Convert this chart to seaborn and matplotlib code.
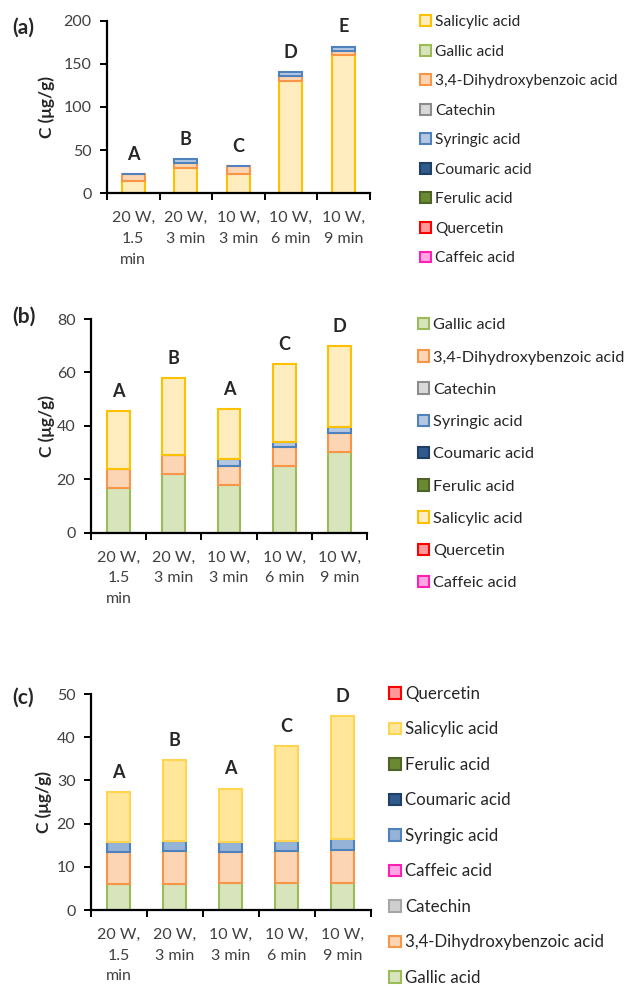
import numpy as np
import pandas as pd
import matplotlib
matplotlib.use("Agg")
import matplotlib.pyplot as plt
from matplotlib.patches import Patch
from matplotlib.ticker import FixedLocator
import seaborn as sns

sns.set_style("white")
plt.rcParams["font.family"] = ["Lato", "DejaVu Sans"]

# extraction conditions (x categories)
conditions = ["20 W,\n1.5\nmin", "20 W,\n3 min", "10 W,\n3 min", "10 W,\n6 min", "10 W,\n9 min"]

# panel (a) values, ug/g
a_salicylic = [14.5, 29.5, 22.5, 130.0, 160.0]
a_gallic = [0, 0, 0, 0, 0]
a_dhba = [7.5, 5.5, 9.0, 6.0, 5.0]
a_catechin = [0, 0, 0, 0, 0]
a_syringic = [0, 4.5, 0, 4.5, 5.0]
a_coumaric = [0, 0, 0, 0, 0]
a_ferulic = [0, 0, 0, 0, 0]
a_quercetin = [0, 0, 0, 0, 0]
a_caffeic = [0, 0, 0, 0, 0]
a_letters = ["A", "B", "C", "D", "E"]

# panel (b)
b_gallic = [16.8, 22.1, 18.0, 25.0, 30.2]
b_dhba = [7.1, 7.1, 7.0, 7.2, 7.2]
b_catechin = [0, 0, 0, 0, 0]
b_syringic = [0, 0, 2.5, 1.8, 2.1]
b_coumaric = [0, 0, 0, 0, 0]
b_ferulic = [0, 0, 0, 0, 0]
b_salicylic = [21.7, 28.8, 18.9, 29.2, 30.4]
b_quercetin = [0, 0, 0, 0, 0]
b_caffeic = [0, 0, 0, 0, 0]
b_letters = ["A", "B", "A", "C", "D"]

# panel (c)
c_gallic = [6.0, 6.0, 6.2, 6.2, 6.3]
c_dhba = [7.4, 7.6, 7.2, 7.4, 7.6]
c_catechin = [0, 0, 0, 0, 0]
c_caffeic = [0, 0, 0, 0, 0]
c_syringic = [2.3, 2.3, 2.3, 2.4, 2.5]
c_coumaric = [0, 0, 0, 0, 0]
c_ferulic = [0, 0, 0, 0, 0]
c_salicylic = [11.5, 18.8, 12.4, 22.0, 28.5]
c_quercetin = [0, 0, 0, 0, 0]
c_letters = ["A", "B", "A", "C", "D"]

# fill / edge colours per compound
styles = {
    "Salicylic acid": ("#FFEDBF", "#FFC000"),
    "Gallic acid": ("#D8E4BC", "#9BBB59"),
    "3,4-Dihydroxybenzoic acid": ("#FCD5B4", "#F79646"),
    "Catechin": ("#D9D9D9", "#8C8C8C"),
    "Syringic acid": ("#B4C8E2", "#4F81BD"),
    "Coumaric acid": ("#305B8D", "#203F66"),
    "Ferulic acid": ("#6A8A32", "#4F6228"),
    "Quercetin": ("#FF9999", "#FF0000"),
    "Caffeic acid": ("#FFA6E3", "#FF1FB4"),
}
# panel (c) uses somewhat stronger fills
styles_c = dict(styles)
styles_c["Salicylic acid"] = ("#FFE699", "#FFD54F")
styles_c["Syringic acid"] = ("#95B3D7", "#4F81BD")
styles_c["Catechin"] = ("#CFCFCF", "#A6A6A6")

panel_a = {
    "Salicylic acid": a_salicylic, "Gallic acid": a_gallic,
    "3,4-Dihydroxybenzoic acid": a_dhba, "Catechin": a_catechin,
    "Syringic acid": a_syringic, "Coumaric acid": a_coumaric,
    "Ferulic acid": a_ferulic, "Quercetin": a_quercetin, "Caffeic acid": a_caffeic,
}
panel_b = {
    "Gallic acid": b_gallic, "3,4-Dihydroxybenzoic acid": b_dhba,
    "Catechin": b_catechin, "Syringic acid": b_syringic,
    "Coumaric acid": b_coumaric, "Ferulic acid": b_ferulic,
    "Salicylic acid": b_salicylic, "Quercetin": b_quercetin, "Caffeic acid": b_caffeic,
}
# (c) legend lists the stack top-down
panel_c = {
    "Quercetin": c_quercetin, "Salicylic acid": c_salicylic,
    "Ferulic acid": c_ferulic, "Coumaric acid": c_coumaric,
    "Syringic acid": c_syringic, "Caffeic acid": c_caffeic,
    "Catechin": c_catechin, "3,4-Dihydroxybenzoic acid": c_dhba,
    "Gallic acid": c_gallic,
}


def draw_panel(ax, data, pal, stack_reversed, ymax, ystep, letters, bar_width,
               ylab_x, leg_anchor, leg_fs, leg_spacing):
    legend_order = list(data.keys())
    stack = legend_order[::-1] if stack_reversed else legend_order
    bottom = np.zeros(len(conditions))
    for name in stack:
        vals = np.array(data[name], dtype=float)
        if vals.sum() > 0:
            df = pd.DataFrame({"Condition": conditions, "C": vals})
            fill, edge = pal[name]
            sns.barplot(data=df, x="Condition", y="C", order=conditions, ax=ax,
                        color=fill, saturation=1, edgecolor=edge, linewidth=1.5,
                        width=bar_width, errorbar=None, bottom=bottom.copy())
        bottom += vals

    # significance letters above each stack
    for i, letter in enumerate(letters):
        ax.annotate(letter, xy=(i, bottom[i]), xytext=(0, 8), textcoords="offset points",
                    ha="center", va="bottom", fontsize=13, fontweight="bold")

    ax.set_xlim(-0.5, len(conditions) - 0.5)
    ax.set_ylim(0, ymax)
    ax.set_yticks(np.arange(0, ymax + ystep / 2, ystep))
    ax.set_xlabel("")
    ax.set_ylabel("C (\u03bcg/g)", fontsize=12.5, fontweight="bold")
    ax.yaxis.label.set_va("center")
    ax.yaxis.set_label_coords(ylab_x, 0.5)
    ax.xaxis.set_minor_locator(FixedLocator(np.arange(-0.5, len(conditions), 1.0)))
    ax.tick_params(axis="x", which="major", length=0, pad=13, labelsize=11.5, labelcolor="#404040")
    ax.tick_params(axis="x", which="minor", direction="out", length=5, width=1.4, color="black", bottom=True)
    ax.tick_params(axis="y", direction="out", length=5, width=1.4, color="black", left=True,
                   pad=6, labelsize=11.5, labelcolor="#404040")
    for lab in ax.get_xticklabels():
        lab.set_linespacing(1.6)
    sns.despine(ax=ax)
    for side in ["left", "bottom"]:
        ax.spines[side].set_color("black")
        ax.spines[side].set_linewidth(1.6)

    handles = [Patch(facecolor=pal[n][0], edgecolor=pal[n][1], linewidth=1.5, label=n)
               for n in legend_order]
    fig.legend(handles=handles, loc="upper left", bbox_to_anchor=leg_anchor, frameon=False,
               fontsize=leg_fs, labelspacing=leg_spacing, handlelength=0.7, handleheight=0.7,
               handletextpad=0.25, borderpad=0, borderaxespad=0)


fig = plt.figure(figsize=(6.35, 9.86), dpi=100)
W, H = 635.0, 986.0
ax_a = fig.add_axes([107 / W, 1 - 193.3 / H, 262.5 / W, 172.6 / H])
ax_b = fig.add_axes([90.7 / W, 1 - 532.7 / H, 276.5 / W, 213.7 / H])
ax_c = fig.add_axes([90.7 / W, 1 - 910 / H, 280 / W, 216 / H])

draw_panel(ax_a, panel_a, styles, False, 200, 50, a_letters, 0.43, -0.23,
           (420 / W, 1 - 15 / H), 11.2, 1.0)
draw_panel(ax_b, panel_b, styles, False, 80, 20, b_letters, 0.41, -0.159,
           (418 / W, 1 - 318 / H), 11.7, 1.1)
draw_panel(ax_c, panel_c, styles_c, True, 50, 10, c_letters, 0.42, -0.167,
           (389 / W, 1 - 686 / H), 12.2, 1.15)

fig.text(12 / W, 1 - 28 / H, "(a)", fontsize=15, fontweight="bold", va="center")
fig.text(12 / W, 1 - 317 / H, "(b)", fontsize=15, fontweight="bold", va="center")
fig.text(12 / W, 1 - 698 / H, "(c)", fontsize=15, fontweight="bold", va="center")

fig.savefig("out.png", dpi=100)
